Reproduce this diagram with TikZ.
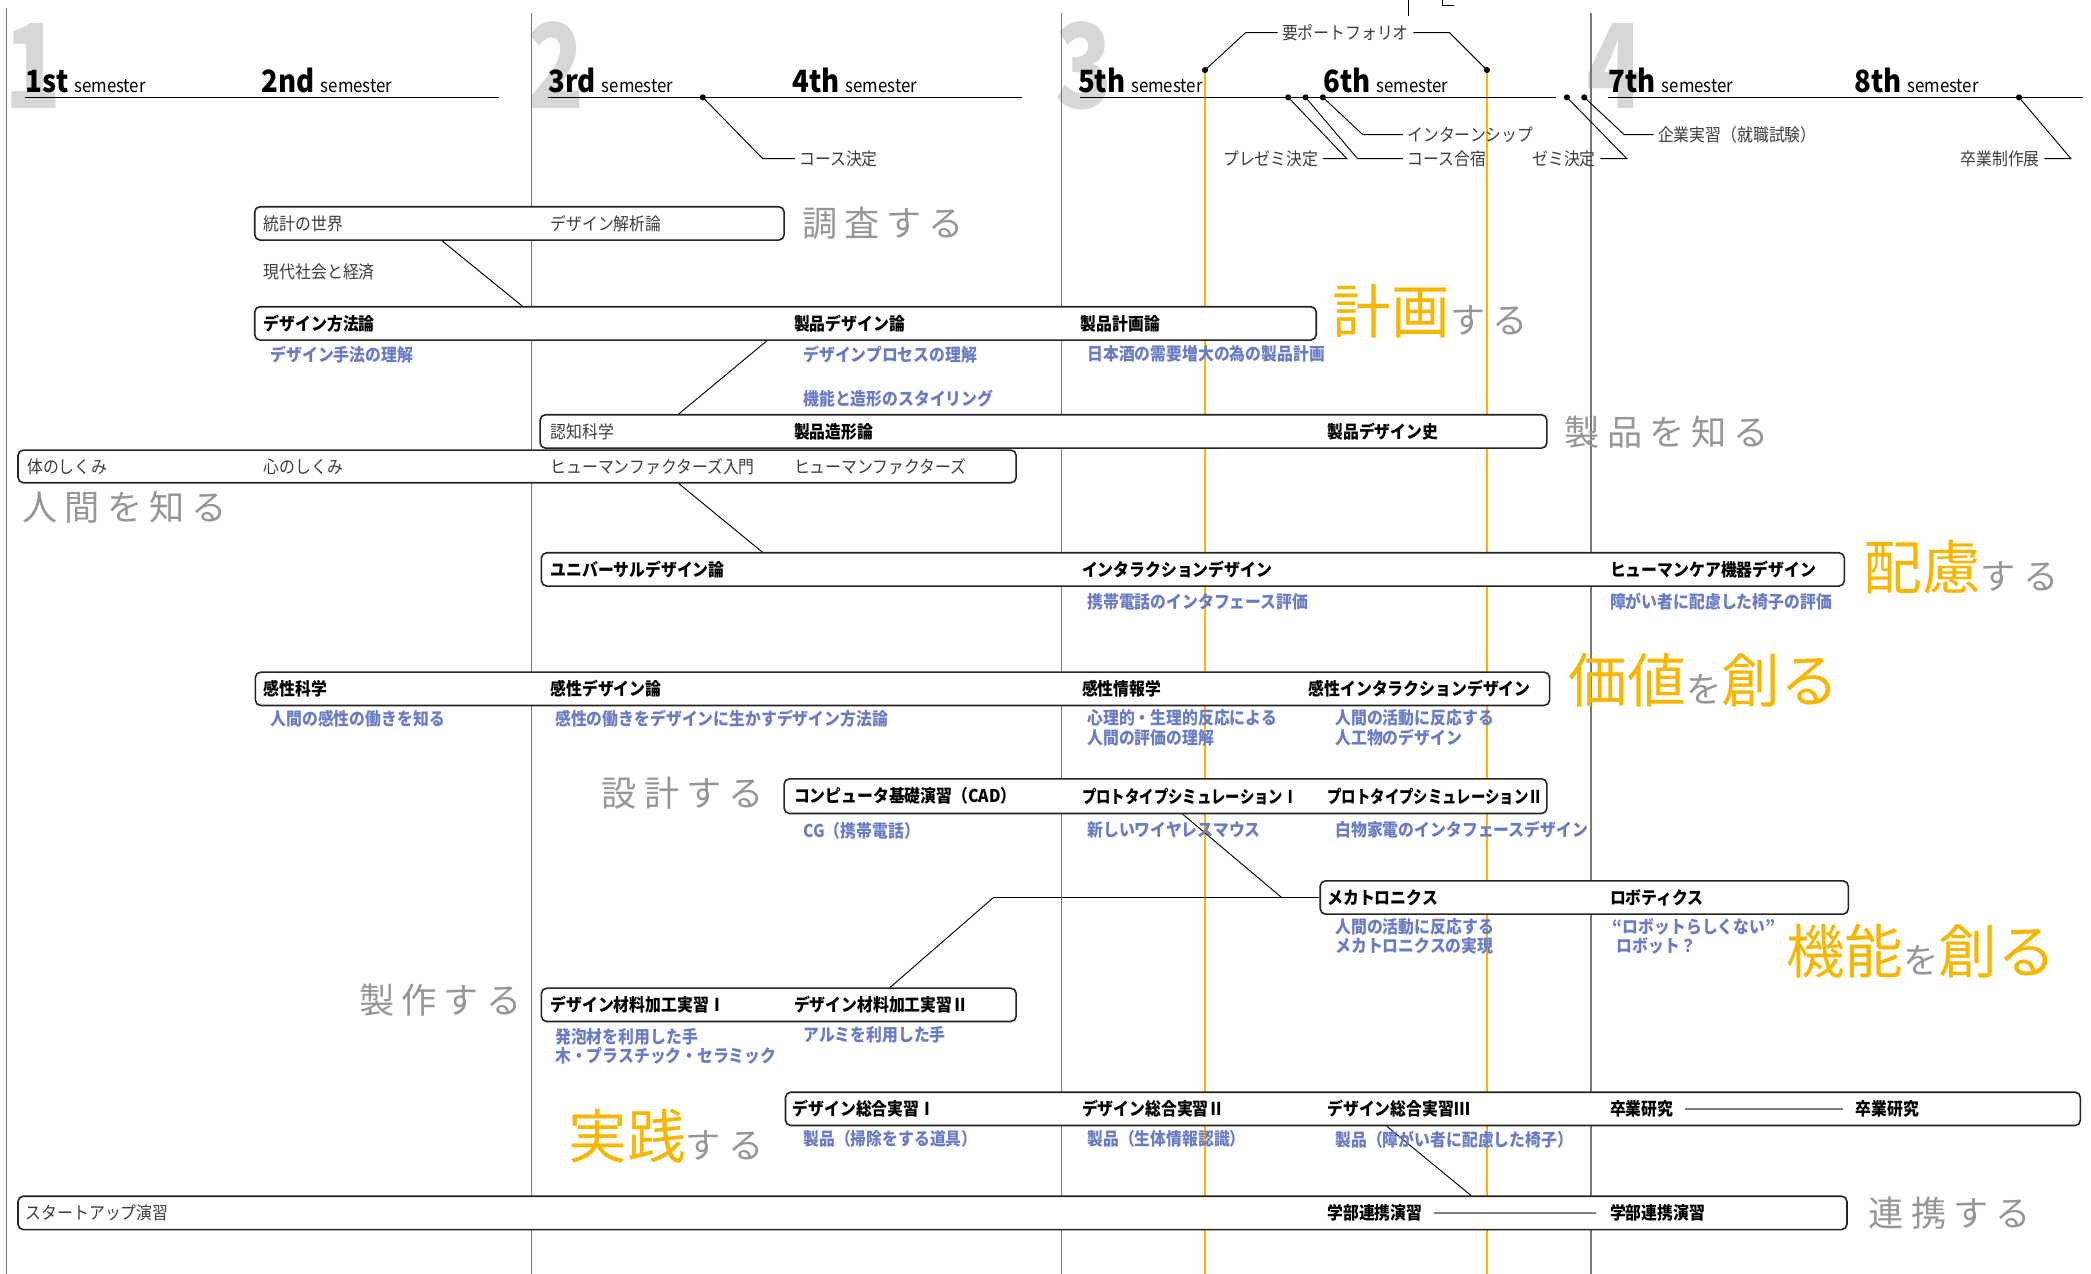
\documentclass[tikz,border=0pt]{standalone}
\usepackage{fontspec}
\usepackage{graphicx}
\setmainfont{Noto Sans CJK JP}[FakeStretch=0.9]
\newfontfamily\bigjp{Noto Sans CJK JP}[LetterSpace=20]
\newfontfamily\orjp{Noto Sans CJK JP}
\newfontfamily\numjp{Noto Sans CJK JP}[FakeStretch=0.8]
\usetikzlibrary{fit}
\definecolor{orangeA}{RGB}{247,182,0}
\definecolor{blueA}{RGB}{106,124,196}
\definecolor{greyA}{RGB}{150,150,150}
\definecolor{darkA}{RGB}{60,60,60}
\definecolor{numA}{RGB}{215,215,215}
\definecolor{gridA}{RGB}{120,120,120}
\definecolor{boxA}{RGB}{40,35,35}
\newcommand\OrPart[1]{{\orjp\fontsize{22}{22}\selectfont\color{orangeA}#1}}
\newcommand\GrPart[1]{{\bigjp\fontsize{13.2}{14}\selectfont\color{greyA}#1}}
\newcommand\SemHead[2]{{\fontsize{11.5}{12}\selectfont\bfseries #1}\hspace{2.2pt}{\fontsize{7}{8}\selectfont #2}}
\newcommand\Narrow[1]{\scalebox{0.91}[1]{#1}}
\begin{document}
\begin{tikzpicture}[x=0.5pt,y=-0.5pt,
  gridline/.style={draw=gridA,line width=0.45pt},
  oline/.style={draw=orangeA,line width=0.9pt},
  semline/.style={draw=black,line width=0.6pt},
  leader/.style={draw=black,line width=0.35pt},
  dotn/.style={circle,fill=black,inner sep=0pt,minimum size=2.3pt},
  cbox/.style={draw=boxA,line width=0.6pt,fill=white,rounded corners=2pt,inner sep=0pt},
  ctext/.style={anchor=west,inner sep=0pt,font=\fontsize{6.6}{7.6}\selectfont\bfseries,text=black},
  rtext/.style={anchor=west,inner sep=0pt,font=\fontsize{6.6}{7.6}\selectfont,text=darkA},
  btext/.style={anchor=north west,inner sep=0pt,align=left,font=\fontsize{6.6}{7.2}\selectfont\bfseries,text=blueA},
  lbl/.style={inner xsep=1.5pt,inner ysep=0pt,font=\fontsize{6.6}{7.6}\selectfont,text=darkA},
  biglbl/.style={anchor=west,inner sep=0pt,font=\bigjp\fontsize{13.2}{14}\selectfont,text=greyA},
  combo/.style={anchor=base west,inner sep=0pt},
  numeral/.style={anchor=base west,inner sep=0pt,font=\numjp\bfseries\fontsize{44}{44}\selectfont,text=numA},
  semhead/.style={anchor=base west,inner sep=0pt,text=black},
  conn/.style={draw=black,line width=0.35pt},
  gconn/.style={draw=gray,line width=0.8pt}
]
\useasboundingbox (0,0) rectangle (1568,955);

% big year numerals
\node[numeral] (n1) at (3,81) {1};
\node[numeral] (n2) at (395,81) {2};
\node[numeral] (n3) at (791,81) {3};
\node[numeral] (n4) at (1189,81) {4};

% grid lines
\draw[gridline] (5,6) -- (5,955);
\draw[gridline] (398.5,10) -- (398.5,955);
\draw[gridline] (796,10) -- (796,955);
\draw[gridline] (1193,10) -- (1193,955);
% orange lines
\draw[oline] (903.6,52.5) -- (903.6,955);
\draw[oline] (1115,52.5) -- (1115,955);
% semester lines
\draw[semline] (19,73) -- (374,73);
\draw[semline] (411,73) -- (766,73);
\draw[semline] (810,73) -- (1167,73);
\draw[semline] (1206,73) -- (1562,73);

% semester headings
\node[semhead] (s1) at (19,69.5) {\SemHead{1st}{semester}};
\node[semhead] (s2) at (196,69.5) {\SemHead{2nd}{semester}};
\node[semhead] (s3) at (411,69.5) {\SemHead{3rd}{semester}};
\node[semhead] (s4) at (594,69.5) {\SemHead{4th}{semester}};
\node[semhead] (s5) at (808,69.5) {\SemHead{5th}{semester}};
\node[semhead] (s6) at (992,69.5) {\SemHead{6th}{semester}};
\node[semhead] (s7) at (1206,69.5) {\SemHead{7th}{semester}};
\node[semhead] (s8) at (1390,69.5) {\SemHead{8th}{semester}};

% top cut-off marks
\coordinate (t1a) at (1056,0); \coordinate (t1b) at (1056,12);
\draw[leader] (t1a) -- (t1b);
\coordinate (t2a) at (1082,0); \coordinate (t2b) at (1082,4); \coordinate (t2c) at (1090,4);
\draw[leader] (t2a) -- (t2b) -- (t2c);

% dots and leaders
\node[dotn] (d1) at (527,73) {};
\node[dotn] (dp1) at (903.6,52.5) {};
\node[dotn] (dp2) at (1115,52.5) {};
\node[dotn] (d2) at (966,73) {};
\node[dotn] (d3) at (979,73) {};
\node[dotn] (d4) at (992,73) {};
\node[dotn] (d5) at (1175,73) {};
\node[dotn] (d6) at (1188,73) {};
\node[dotn] (d7) at (1514,73) {};

\node[lbl,anchor=west] (L1) at (596,119) {コース決定};
\node[lbl,anchor=west] (Lp) at (958,24.5) {要ポートフォリオ};
\node[lbl,anchor=east] (L2) at (992,119) {プレゼミ決定};
\node[lbl,anchor=west] (L3) at (1052,119) {コース合宿};
\node[lbl,anchor=west] (L4) at (1052,101) {インターンシップ};
\node[lbl,anchor=east] (L5) at (1200,119) {ゼミ決定};
\node[lbl,anchor=west] (L6) at (1240,101) {企業実習（就職試験）};
\node[lbl,anchor=east] (L7) at (1533,119) {卒業制作展};

\coordinate (e1) at (572,119);
\coordinate (ep1) at (934,24.5);
\coordinate (ep2) at (1087,24.5);
\coordinate (e2) at (1010,119);
\coordinate (e3) at (1018,119);
\coordinate (e4) at (1022,101);
\coordinate (e5) at (1220,119);
\coordinate (e6) at (1218,101);
\coordinate (e7) at (1553,119);
\draw[leader] (d1.center) -- (e1) -- (L1.west);
\draw[leader] (dp1.center) -- (ep1) -- (Lp.west);
\draw[leader] (Lp.east) -- (ep2) -- (dp2.center);
\draw[leader] (d2.center) -- (e2) -- (L2.east);
\draw[leader] (d3.center) -- (e3) -- (L3.west);
\draw[leader] (d4.center) -- (e4) -- (L4.west);
\draw[leader] (d5.center) -- (e5) -- (L5.east);
\draw[leader] (d6.center) -- (e6) -- (L6.west);
\draw[leader] (d7.center) -- (e7) -- (L7.east);

% boxes
\node[cbox,fit={(191,155) (588,180)}] (b1) {};
\node[cbox,fit={(191,230) (987,255)}] (b2) {};
\node[cbox,fit={(405,311) (1160,336)}] (b3) {};
\node[cbox,fit={(13.5,337.5) (762,362)}] (b4) {};
\node[cbox,fit={(406,414.5) (1383,439.5)}] (b5) {};
\node[cbox,fit={(191.5,504) (1162,529)}] (b6) {};
\node[cbox,fit={(588,584) (1160,610)}] (b7) {};
\node[cbox,fit={(990,660.5) (1386,685.5)}] (b8) {};
\node[cbox,fit={(406,741) (762,766)}] (b9) {};
\node[cbox,fit={(589,819) (1560,844)}] (b10) {};
\node[cbox,fit={(13.5,897) (1385,922)}] (b11) {};

% connectors between boxes
\coordinate (k1) at (331.5,0); \coordinate (k2) at (391.5,0);
\coordinate (k3) at (575,0); \coordinate (k4) at (509,0);
\coordinate (k5) at (509,0); \coordinate (k6) at (571.5,0);
\coordinate (k7) at (887,0); \coordinate (j1) at (961,673);
\coordinate (k8) at (667.5,0); \coordinate (j2) at (745,673);
\coordinate (k9) at (1040,0); \coordinate (k10) at (1103,0);
\draw[conn] (b1.south -| k1) -- (b2.north -| k2);
\draw[conn] (b2.south -| k3) -- (b3.north -| k4);
\draw[conn] (b4.south -| k5) -- (b5.north -| k6);
\draw[conn] (b7.south -| k7) -- (j1);
\draw[conn] (b9.north -| k8) -- (j2) -- (b8.west);
\draw[conn] (b10.south -| k9) -- (b11.north -| k10);

% box 1
\node[rtext] (a1) at (197.5,167.5) {統計の世界};
\node[rtext] (a2) at (412.5,167.5) {デザイン解析論};
\node[rtext] (a3) at (197.5,204) {現代社会と経済};
% box 2
\node[ctext] (c1) at (197.5,242.5) {デザイン方法論};
\node[ctext] (c2) at (595,242.5) {製品デザイン論};
\node[ctext] (c3) at (810,242.5) {製品計画論};
\node[btext] (u1) at (202.5,258.9) {デザイン手法の理解};
\node[btext] (u2) at (602,258.9) {デザインプロセスの理解};
\node[btext] (u3) at (602,292.4) {機能と造形のスタイリング};
\node[btext] (u4) at (815,258.9) {日本酒の需要増大の為の製品計画};
% box 3
\node[rtext] (c4) at (412.5,323.5) {認知科学};
\node[ctext] (c5) at (595,323.5) {製品造形論};
\node[ctext] (c6) at (995,323.5) {製品デザイン史};
% box 4
\node[rtext] (c7) at (20,350) {体のしくみ};
\node[rtext] (c8) at (197.5,350) {心のしくみ};
\node[rtext] (c9) at (412.5,350) {ヒューマンファクターズ入門};
\node[rtext] (c10) at (595,350) {ヒューマンファクターズ};
% box 5
\node[ctext] (c11) at (412.5,427) {ユニバーサルデザイン論};
\node[ctext] (c12) at (811,427) {インタラクションデザイン};
\node[ctext] (c13) at (1207,427) {ヒューマンケア機器デザイン};
\node[btext] (u5) at (815,444.4) {携帯電話のインタフェース評価};
\node[btext] (u6) at (1207,444.4) {障がい者に配慮した椅子の評価};
% box 6
\node[ctext] (c14) at (197.5,516.5) {感性科学};
\node[ctext] (c15) at (412.5,516.5) {感性デザイン論};
\node[ctext] (c16) at (811,516.5) {感性情報学};
\node[ctext] (c17) at (981,516.5) {感性インタラクションデザイン};
\node[btext] (u7) at (202.5,531.9) {人間の感性の働きを知る};
\node[btext] (u8) at (416,531.9) {感性の働きをデザインに生かすデザイン方法論};
\node[btext] (u9) at (815,531.9) {心理的・生理的反応による\\人間の評価の理解};
\node[btext] (u10) at (1001,531.9) {人間の活動に反応する\\人工物のデザイン};
% box 7
\node[ctext] (c18) at (595,597) {コンピュータ基礎演習（CAD）};
\node[ctext] (c19) at (811,597) {\Narrow{プロトタイプシミュレーションⅠ}};
\node[ctext] (c20) at (995,597) {\Narrow{プロトタイプシミュレーションⅡ}};
\node[btext] (u11) at (602,616.4) {CG（携帯電話）};
\node[btext] (u12) at (815,615.4) {新しいワイヤレスマウス};
\node[btext] (u13) at (1001,615.4) {白物家電のインタフェースデザイン};
% box 8
\node[ctext] (c21) at (995,673) {メカトロニクス};
\node[ctext] (c22) at (1207,673) {ロボティクス};
\node[btext] (u14) at (1001,688.4) {人間の活動に反応する\\メカトロニクスの実現};
\node[btext] (u15) at (1209,688.4) {“ロボットらしくない”\\\hspace*{1.5pt}ロボット？};
% box 9
\node[ctext] (c23) at (412.5,753.5) {デザイン材料加工実習Ⅰ};
\node[ctext] (c24) at (595,753.5) {デザイン材料加工実習Ⅱ};
\node[btext] (u16) at (416,770.4) {発泡材を利用した手\\木・プラスチック・セラミック};
\node[btext] (u17) at (602,769.4) {アルミを利用した手};
% box 10
\node[ctext] (c25) at (594,831.5) {デザイン総合実習Ⅰ};
\node[ctext] (c26) at (811,831.5) {デザイン総合実習Ⅱ};
\node[ctext] (c27) at (995,831.5) {デザイン総合実習Ⅲ};
\node[ctext] (c28) at (1207,831.5) {卒業研究};
\node[ctext] (c29) at (1391,831.5) {卒業研究};
\draw[gconn] ([xshift=4pt]c28.east) -- ([xshift=-4.5pt]c29.west);
\node[btext] (u18) at (602,847.4) {製品（掃除をする道具）};
\node[btext] (u19) at (815,847.4) {製品（生体情報認識）};
\node[btext] (u20) at (1001,847.4) {製品（障がい者に配慮した椅子）};
% box 11
\node[rtext] (c30) at (19,909.5) {スタートアップ演習};
\node[ctext] (c31) at (995,909.5) {学部連携演習};
\node[ctext] (c32) at (1207,909.5) {学部連携演習};
\draw[gconn] ([xshift=4pt]c31.east) -- ([xshift=-5pt]c32.west);

% big labels
\node[biglbl] (g1) at (601,167.5) {調査する};
\node[biglbl] (g2) at (1173,324) {製品を知る};
\node[biglbl] (g3) at (16.5,380) {人間を知る};
\node[biglbl] (g4) at (451,595) {設計する};
\node[biglbl] (g5) at (269,750) {製作する};
\node[biglbl] (g6) at (1401,909.5) {連携する};
\node[combo] (o1) at (999,250) {\OrPart{計画}\GrPart{する}};
\node[combo] (o2) at (1397,442) {\OrPart{配慮}\GrPart{する}};
\node[combo] (o3) at (1176,527) {\OrPart{価値}\GrPart{を}\OrPart{創る}};
\node[combo] (o4) at (1339,730) {\OrPart{機能}\GrPart{を}\OrPart{創る}};
\node[combo] (o5) at (426,869) {\OrPart{実践}\GrPart{する}};
\end{tikzpicture}
\end{document}
